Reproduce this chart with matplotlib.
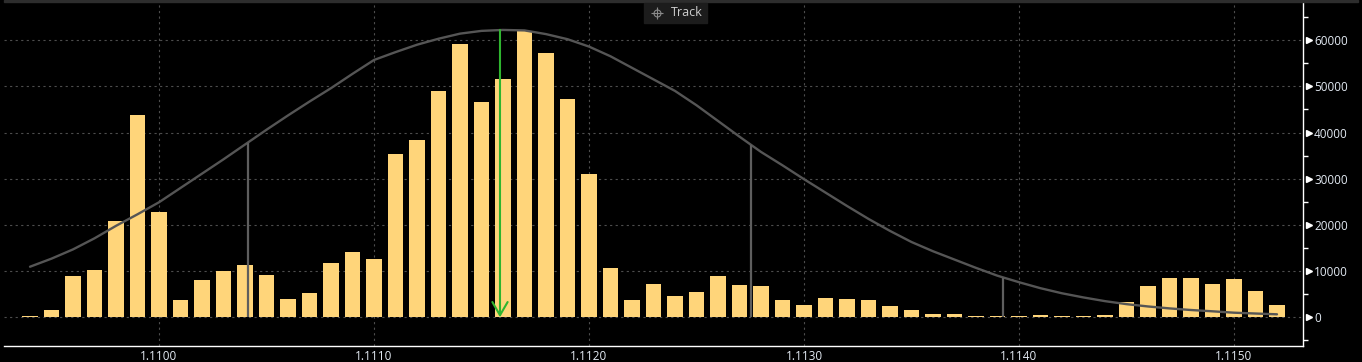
import matplotlib
matplotlib.use("Agg")
import matplotlib.pyplot as plt
from matplotlib.ticker import MultipleLocator, FuncFormatter
from matplotlib.transforms import blended_transform_factory
from matplotlib.patches import Rectangle, FancyArrowPatch
from matplotlib.lines import Line2D

# price levels (one bar per pip)
prices = [
    1.1094, 1.1095, 1.1096, 1.1097, 1.1098, 1.1099, 1.1100, 1.1101, 1.1102, 1.1103,
    1.1104, 1.1105, 1.1106, 1.1107, 1.1108, 1.1109, 1.1110, 1.1111, 1.1112, 1.1113,
    1.1114, 1.1115, 1.1116, 1.1117, 1.1118, 1.1119, 1.1120, 1.1121, 1.1122, 1.1123,
    1.1124, 1.1125, 1.1126, 1.1127, 1.1128, 1.1129, 1.1130, 1.1131, 1.1132, 1.1133,
    1.1134, 1.1135, 1.1136, 1.1137, 1.1138, 1.1139, 1.1140, 1.1141, 1.1142, 1.1143,
    1.1144, 1.1145, 1.1146, 1.1147, 1.1148, 1.1149, 1.1150, 1.1151, 1.1152,
]
volume = [
    300, 1600, 9000, 10200, 20800, 43800, 22800, 3700, 8000, 10000,
    11300, 9200, 3900, 5300, 11700, 14100, 12600, 35300, 38300, 48900,
    59100, 46600, 51600, 62000, 57300, 47200, 31000, 10600, 3700, 7200,
    4600, 5500, 8950, 7000, 6800, 3750, 2650, 4200, 4000, 3750,
    2450, 1600, 700, 700, 300, 220, 220, 500, 220, 220,
    500, 3300, 6800, 8500, 8500, 7200, 8300, 5700, 2650,
]
# fitted distribution curve, read at each price level
fit_curve = [
    10950, 12700, 14700, 17100, 19800, 22300, 24900, 28000, 31100, 34200,
    37400, 40600, 43700, 46700, 49600, 52700, 55700, 57400, 59000, 60300,
    61400, 62000, 62200, 62100, 61300, 60200, 58600, 56500, 54000, 51500,
    49000, 45900, 42500, 39100, 35800, 32900, 29900, 27000, 24100, 21300,
    18700, 16300, 14300, 12500, 10700, 9000, 7600, 6300, 5200, 4300,
    3500, 2850, 2350, 1930, 1580, 1300, 1000, 820, 650,
]
# sigma markers
sigma_x = [1.110414, 1.112753, 1.113926]
sigma_y = [37800, 37300, 8600]
# mean (green arrow)
mean_price = 1.111586
mean_peak = 62200

BG = "black"
BAR = "#ffd57a"
CURVE = "#555555"
GRID = "#4d4d4d"
LABEL = "#e2e9f2"
FONT = "Open Sans"

fig = plt.figure(figsize=(13.62, 3.62), dpi=100, facecolor=BG)
ax = fig.add_axes([4 / 1362, 16 / 362, 1299 / 1362, 344 / 362])
ax.set_facecolor(BG)

ax.bar(prices, volume, width=0.000074, color=BAR, zorder=2)
ax.plot(prices, fit_curve, color=CURVE, lw=1.7, zorder=3, solid_capstyle="round")
ax.vlines(sigma_x, 0, sigma_y, color="#5e5e5e", lw=1.6, zorder=3)

arrow = FancyArrowPatch((mean_price, mean_peak), (mean_price, 0),
                        arrowstyle="->,head_length=0.95,head_width=0.55",
                        mutation_scale=10, color="#2fb52f", lw=1.5,
                        shrinkA=0, shrinkB=0, zorder=4)
ax.add_patch(arrow)

ax.set_xlim(1.109279, 1.115321)
ax.set_ylim(-6210, 68250)

ax.xaxis.set_major_locator(MultipleLocator(0.001))
ax.xaxis.set_major_formatter(FuncFormatter(lambda v, p: f"{v:.4f}"))
ax.yaxis.set_major_locator(MultipleLocator(10000))
ax.yaxis.set_minor_locator(MultipleLocator(5000))
ax.yaxis.set_major_formatter(FuncFormatter(lambda v, p: f"{v:.0f}"))

ax.grid(True, which="major", color=GRID, linestyle=(0, (2, 3)), lw=0.8)
ax.set_axisbelow(True)

for side in ("left", "top"):
    ax.spines[side].set_visible(False)
for side in ("bottom", "right"):
    ax.spines[side].set_color("white")
    ax.spines[side].set_linewidth(1.0)

ax.yaxis.tick_right()
ax.tick_params(axis="y", which="major", length=0, pad=8, labelcolor=LABEL,
               labelsize=8.5, right=True, left=False)
ax.tick_params(axis="y", which="minor", length=3.5, width=1, color="white",
               right=True, left=False)
ax.tick_params(axis="x", which="major", length=0, pad=3, labelcolor=LABEL,
               labelsize=8.5)
for lab in ax.get_xticklabels() + ax.get_yticklabels():
    lab.set_fontfamily(FONT)

# triangle markers at the labelled y ticks
trans = blended_transform_factory(ax.transAxes, ax.transData)
yt = [t for t in ax.get_yticks() if 0 <= t <= 60000]
ax.plot([1.0045] * len(yt), yt, transform=trans, ls="none", marker=">",
        ms=4.5, color="white", clip_on=False, zorder=5)

# top border strip and "Track" button
fig.patches.append(Rectangle((4 / 1362, 1 - 2 / 362), 1354 / 1362, 2 / 362,
                             transform=fig.transFigure, color="#2d2d2d", zorder=0))
fig.patches.append(Rectangle((644 / 1362, 1 - 23 / 362), 63 / 1362, 20 / 362,
                             transform=fig.transFigure, color="#1c1c1c", zorder=6))
fig.text(671 / 1362, 1 - 13 / 362, "Track", color="#cfcfcf", fontsize=9,
         family=FONT, ha="left", va="center", zorder=7)
icon_x, icon_y = 657 / 1362, 1 - 13 / 362
fig.add_artist(Line2D([icon_x], [icon_y], transform=fig.transFigure, marker="o",
                      ms=5, mfc="none", mec="#8a8a8a", mew=0.8, ls="none", zorder=8))
fig.add_artist(Line2D([icon_x], [icon_y], transform=fig.transFigure, marker="+",
                      ms=9, mec="#8a8a8a", mew=0.8, ls="none", zorder=8))

fig.savefig("out.png", dpi=100, facecolor=BG)
